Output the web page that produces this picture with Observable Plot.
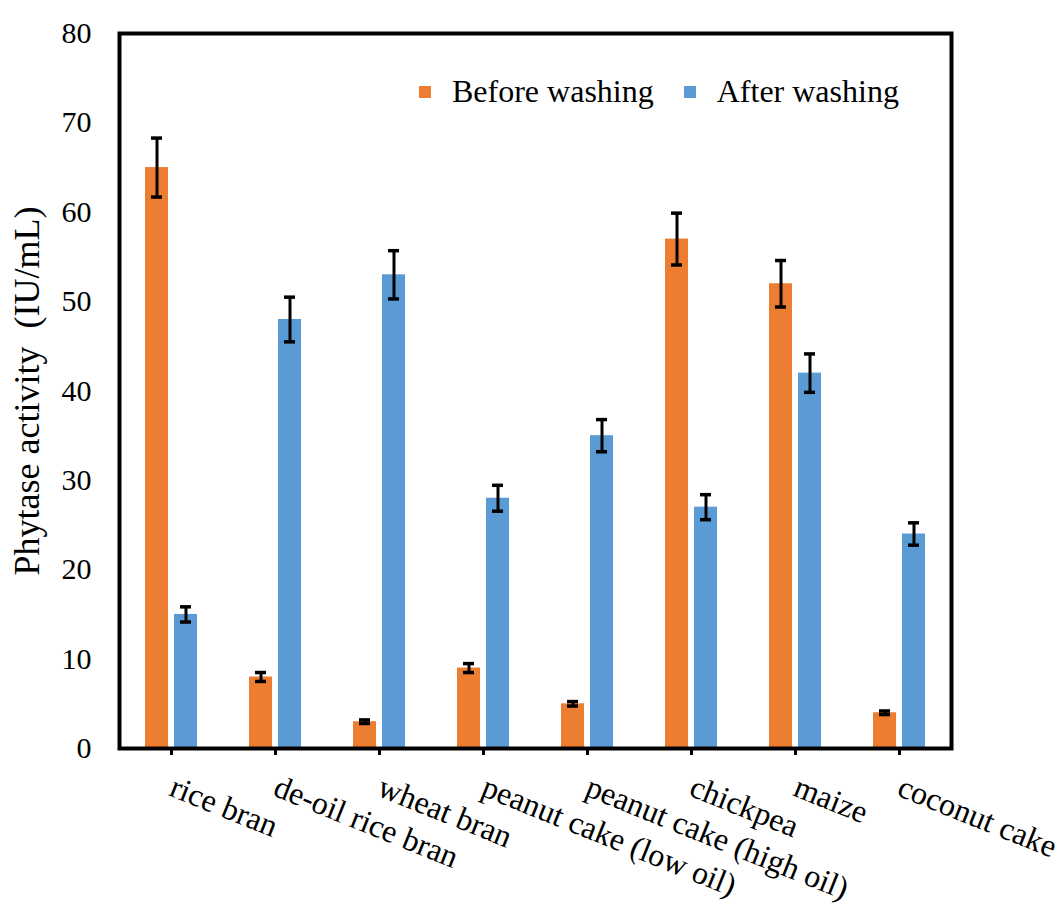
<!DOCTYPE html>
<html>
<head>
<meta charset="utf-8">
<script src="https://cdn.jsdelivr.net/npm/d3@7"></script>
<script src="https://cdn.jsdelivr.net/npm/@observablehq/plot@0.6"></script>
<style>
  html, body { margin: 0; padding: 0; background: #fff; }
  #wrap { position: relative; width: 1060px; height: 904px; font-family: "Liberation Serif", "Times New Roman", serif; color: #000; }
  #legend { position: absolute; left: 419px; top: 73px; display: flex; align-items: center; font-size: 32px; white-space: nowrap; }
  #legend .item { display: flex; align-items: center; margin-right: 30px; }
  #legend .sw { width: 12px; height: 12px; margin-right: 21px; }
</style>
</head>
<body>
<div id="wrap"></div>
<script>
const categories = ["rice bran", "de-oil rice bran", "wheat bran", "peanut cake (low oil)", "peanut cake (high oil)", "chickpea", "maize", "coconut cake"];
const seriesNames = ["Before washing", "After washing"];
const beforeValues = [65, 8, 3, 9, 5, 57, 52, 4];
const beforeErrors = [3.3, 0.5, 0.2, 0.5, 0.25, 2.9, 2.6, 0.2];
const afterValues = [15, 48, 53, 28, 35, 27, 42, 24];
const afterErrors = [0.85, 2.5, 2.7, 1.45, 1.8, 1.4, 2.15, 1.25];
const yTicks = [0, 10, 20, 30, 40, 50, 60, 70, 80];
const seriesColors = ["#ED7D31", "#5B9BD5"];
const yLabel = "Phytase activity  (IU/mL)";

const rows = [];
categories.forEach((c, i) => {
  rows.push({category: c, series: seriesNames[0], value: beforeValues[i], err: beforeErrors[i]});
  rows.push({category: c, series: seriesNames[1], value: afterValues[i], err: afterErrors[i]});
});

const chart = Plot.plot({
  width: 1060,
  height: 904,
  marginLeft: 116,
  marginRight: 106,
  marginTop: 33,
  marginBottom: 156,
  style: {fontFamily: "'Liberation Serif', 'Times New Roman', serif", fontSize: "30px", color: "#000", background: "#fff", overflow: "visible"},
  fx: {domain: categories, padding: 0},
  x: {domain: seriesNames, paddingInner: 0.2, paddingOuter: 0.846, axis: null},
  y: {domain: [0, 80]},
  color: {domain: seriesNames, range: seriesColors},
  marks: [
    Plot.barY(rows, {fx: "category", x: "series", y: "value", fill: "series"}),
    Plot.ruleX(rows, {fx: "category", x: "series", y1: d => d.value - d.err, y2: d => d.value + d.err, stroke: "#000", strokeWidth: 3}),
    Plot.tickY(rows, {fx: "category", x: "series", y: d => d.value - d.err, stroke: "#000", strokeWidth: 3.5, insetLeft: 6, insetRight: 6}),
    Plot.tickY(rows, {fx: "category", x: "series", y: d => d.value + d.err, stroke: "#000", strokeWidth: 3.5, insetLeft: 6, insetRight: 6}),
    Plot.axisY({ticks: yTicks, tickSize: 0, tickPadding: 28, fontSize: 30, label: null}),
    Plot.axisY({ticks: [], tickSize: 0, fontSize: 36, label: yLabel, labelAnchor: "center", labelArrow: "none", labelOffset: 106}),
    Plot.axisFx({anchor: "bottom", label: null, tickRotate: 22, tickSize: 7, tickPadding: 30, strokeWidth: 3, fontSize: 32}),
    Plot.frame({facet: "super", stroke: "#000", strokeWidth: 4})
  ]
});

const wrap = document.getElementById("wrap");
wrap.appendChild(chart);

const legend = document.createElement("div");
legend.id = "legend";
seriesNames.forEach((name, i) => {
  const item = document.createElement("div");
  item.className = "item";
  const sw = document.createElement("div");
  sw.className = "sw";
  sw.style.background = seriesColors[i];
  const label = document.createElement("span");
  label.textContent = name;
  item.appendChild(sw);
  item.appendChild(label);
  legend.appendChild(item);
});
wrap.appendChild(legend);
</script>
</body>
</html>
